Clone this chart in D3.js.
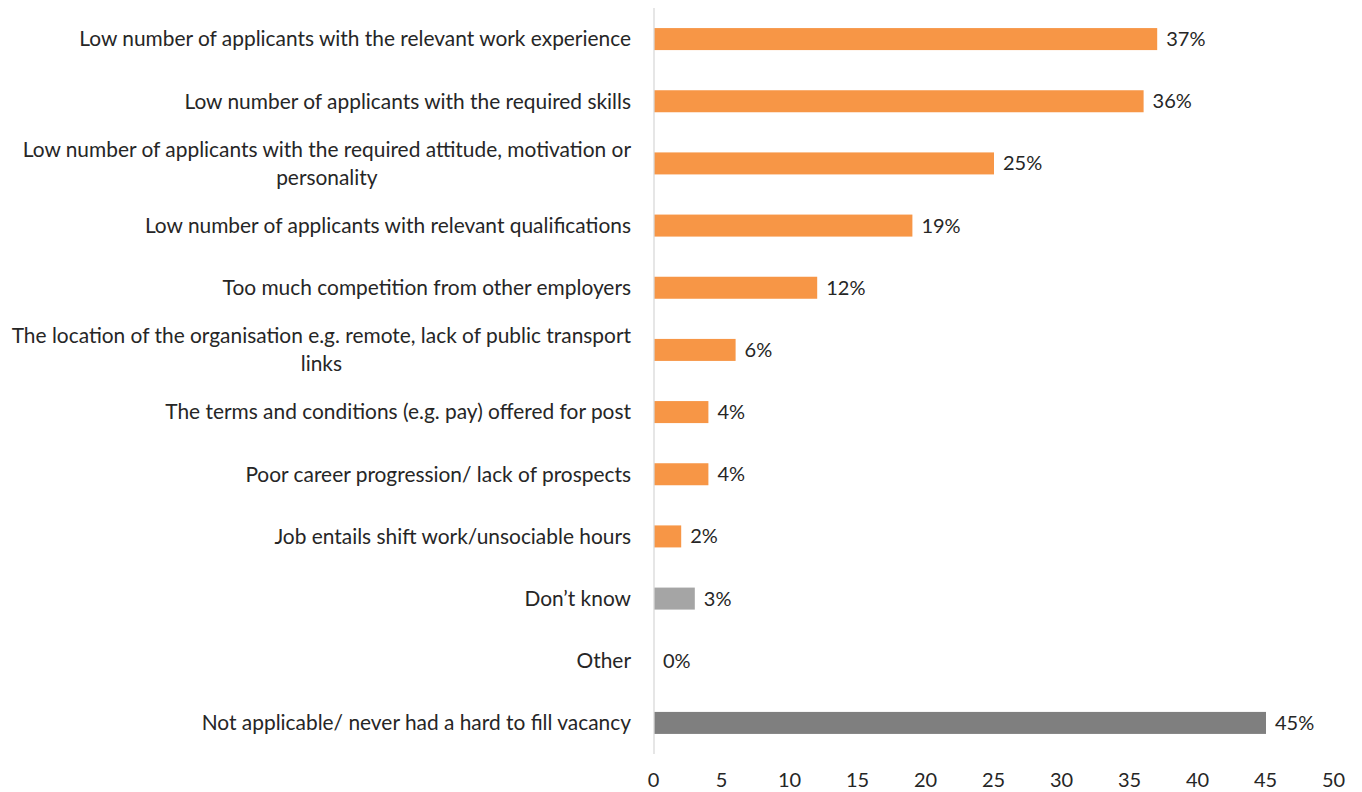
<!DOCTYPE html>
<html>
<head>
<meta charset="utf-8">
<script src="https://cdn.jsdelivr.net/npm/d3@7"></script>
<style>
  html, body { margin: 0; padding: 0; background: #fff; }
  svg { display: block; font-family: Lato, "Open Sans", sans-serif; }
</style>
</head>
<body>
<svg id="chart" width="1362" height="792"></svg>
<script>
// Reasons given for hard-to-fill vacancies (% of employers)
const categories = [
  "Low number of applicants with the relevant work experience",
  "Low number of applicants with the required skills",
  "Low number of applicants with the required attitude, motivation or\npersonality",
  "Low number of applicants with relevant qualifications",
  "Too much competition from other employers",
  "The location of the organisation e.g. remote, lack of public transport\nlinks",
  "The terms and conditions (e.g. pay) offered for post",
  "Poor career progression/ lack of prospects",
  "Job entails shift work/unsociable hours",
  "Don\u2019t know",
  "Other",
  "Not applicable/ never had a hard to fill vacancy"
];
const values = [37, 36, 25, 19, 12, 6, 4, 4, 2, 3, 0, 45];
const groups = ["reason", "reason", "reason", "reason", "reason", "reason",
                "reason", "reason", "reason", "dontknow", "other", "na"];
const xTicks = [0, 5, 10, 15, 20, 25, 30, 35, 40, 45, 50];

const colors = { reason: "#F79646", dontknow: "#A5A5A5", other: "#A5A5A5", na: "#7F7F7F" };
const textColor = "#262626";
const fontSize = 20.9;

const data = categories.map((c, i) => ({ label: c, value: values[i], group: groups[i] }));

const svg = d3.select("#chart");
const plotLeft = 654, plotRight = 1334, plotTop = 8, plotBottom = 754;

const x = d3.scaleLinear().domain([0, 50]).range([plotLeft, plotRight]);
const y = d3.scaleBand()
  .domain(categories)
  .range([plotTop, plotBottom])
  .paddingInner(0.646)
  .paddingOuter(0.323);

// Bars
svg.append("g").selectAll("rect")
  .data(data)
  .join("rect")
  .attr("x", x(0))
  .attr("y", d => y(d.label))
  .attr("width", d => x(d.value) - x(0))
  .attr("height", y.bandwidth())
  .attr("fill", d => colors[d.group]);

// Vertical category axis line
svg.append("line")
  .attr("x1", x(0)).attr("x2", x(0))
  .attr("y1", plotTop).attr("y2", plotBottom)
  .attr("stroke", "#D9D9D9").attr("stroke-width", 1.3);

// Value labels
svg.append("g").selectAll("text")
  .data(data)
  .join("text")
  .attr("x", d => x(d.value) + 9)
  .attr("y", d => y(d.label) + y.bandwidth() / 2)
  .attr("dy", "0.35em")
  .attr("font-size", 20)
  .attr("fill", textColor)
  .text(d => Math.round(d.value) + "%");

// Category labels (multi-line labels are centred on each other, block right-aligned)
const labelRight = 631, lineH = 28;
const catG = svg.append("g");
data.forEach(d => {
  const lines = d.label.split("\n");
  const cy = y(d.label) + y.bandwidth() / 2;
  const t = catG.append("text")
    .attr("font-size", fontSize)
    .attr("fill", textColor);
  lines.forEach((ln, i) => {
    t.append("tspan")
      .attr("y", cy + (i - (lines.length - 1) / 2) * lineH)
      .attr("dy", "0.35em")
      .text(ln);
  });
  if (lines.length === 1) {
    t.attr("text-anchor", "end").selectAll("tspan").attr("x", labelRight);
  } else {
    const widths = t.selectAll("tspan").nodes().map(n => n.getComputedTextLength());
    const maxW = d3.max(widths);
    t.attr("text-anchor", "middle").selectAll("tspan").attr("x", labelRight - maxW / 2);
  }
});

// X axis tick labels
const xAxis = d3.axisBottom(x).tickValues(xTicks).tickSize(0).tickPadding(0);
const gx = svg.append("g")
  .attr("transform", `translate(-1, ${plotBottom + 19})`)
  .call(xAxis);
gx.select(".domain").remove();
gx.selectAll("text")
  .attr("font-family", "Lato, 'Open Sans', sans-serif")
  .attr("font-size", 20)
  .attr("fill", textColor);
</script>
</body>
</html>
